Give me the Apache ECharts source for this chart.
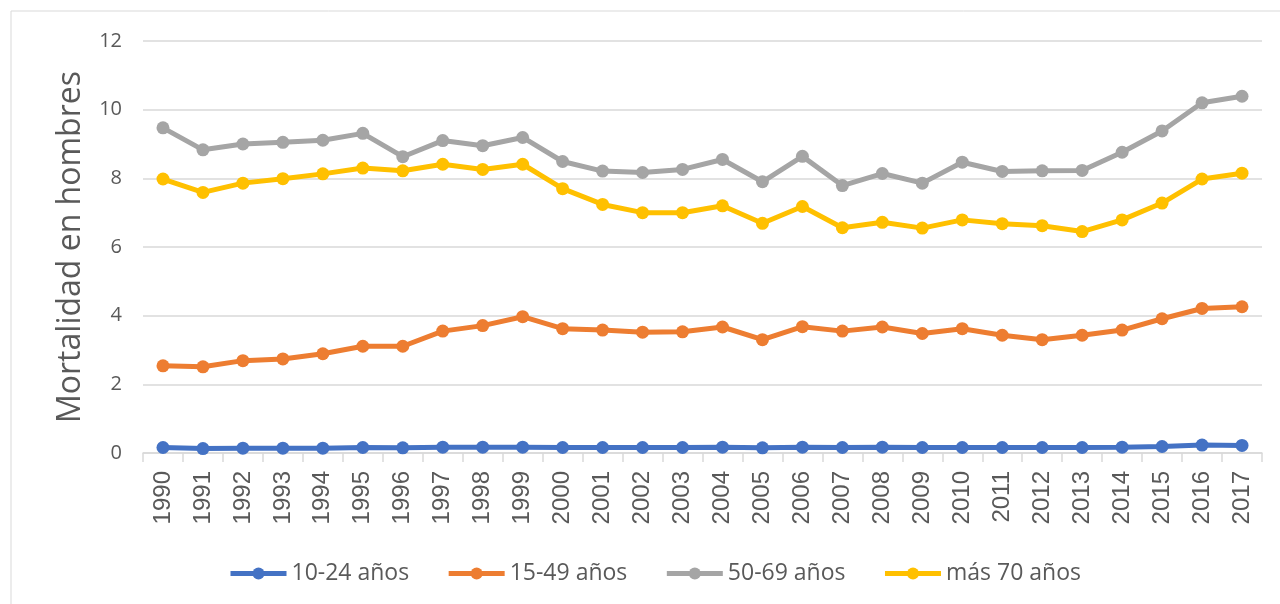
<!DOCTYPE html>
<html>
<head>
<meta charset="utf-8">
<script src="https://cdn.jsdelivr.net/npm/echarts@6/dist/echarts.min.js"></script>
<style>
  html, body { margin: 0; padding: 0; background: #fff; }
  #main { width: 1280px; height: 604px; }
</style>
</head>
<body>
<div id="main"></div>
<script>
const years = ['1990', '1991', '1992', '1993', '1994', '1995', '1996', '1997', '1998', '1999',
  '2000', '2001', '2002', '2003', '2004', '2005', '2006', '2007', '2008', '2009',
  '2010', '2011', '2012', '2013', '2014', '2015', '2016', '2017'];

const age10to24 = [0.16, 0.13, 0.14, 0.14, 0.14, 0.16, 0.15, 0.17, 0.17, 0.17,
  0.16, 0.16, 0.16, 0.16, 0.17, 0.15, 0.17, 0.16, 0.17, 0.16,
  0.16, 0.16, 0.16, 0.16, 0.17, 0.19, 0.23, 0.22];
const age15to49 = [2.54, 2.51, 2.69, 2.74, 2.89, 3.11, 3.11, 3.55, 3.71, 3.97,
  3.62, 3.58, 3.52, 3.53, 3.67, 3.30, 3.68, 3.55, 3.67, 3.48,
  3.62, 3.43, 3.30, 3.43, 3.58, 3.91, 4.21, 4.26];
const age50to69 = [9.47, 8.83, 9.00, 9.05, 9.11, 9.31, 8.63, 9.10, 8.95, 9.19,
  8.49, 8.21, 8.17, 8.26, 8.55, 7.90, 8.64, 7.79, 8.14, 7.86,
  8.47, 8.20, 8.22, 8.23, 8.76, 9.38, 10.20, 10.39];
const age70plus = [7.98, 7.59, 7.86, 7.99, 8.13, 8.30, 8.22, 8.41, 8.26, 8.41,
  7.70, 7.24, 7.00, 7.00, 7.20, 6.69, 7.18, 6.56, 6.72, 6.55,
  6.79, 6.68, 6.62, 6.45, 6.79, 7.28, 7.98, 8.15];

const seriesNames = ['10-24 años', '15-49 años', '50-69 años', 'más 70 años'];
const seriesColors = ['#4472C4', '#ED7D31', '#A5A5A5', '#FFC000'];
const seriesData = [age10to24, age15to49, age50to69, age70plus];

const chart = echarts.init(document.getElementById('main'), null, { renderer: 'canvas' });

const option = {
  backgroundColor: '#ffffff',
  animation: false,
  graphic: [{
    type: 'rect',
    shape: { x: 11, y: 11, width: 1300, height: 620 },
    style: { fill: 'none', stroke: '#d9d9d9', lineWidth: 1 }
  }],
  grid: { left: 143, right: 18, top: 41, bottom: 151, containLabel: false },
  legend: {
    left: 223, top: 557,
    itemWidth: 56, itemHeight: 15, itemGap: 37,
    lineStyle: { width: 5 },
    textStyle: { fontFamily: 'Open Sans', fontSize: 23, color: '#595959' },
    data: seriesNames
  },
  xAxis: {
    type: 'category',
    data: years,
    boundaryGap: true,
    axisLine: { lineStyle: { color: '#d9d9d9', width: 1.5 } },
    axisTick: { show: true, length: 9, lineStyle: { color: '#d9d9d9', width: 1.5 } },
    axisLabel: {
      rotate: 90, margin: 18, interval: 0,
      fontFamily: 'Liberation Sans', fontSize: 24, color: '#595959'
    }
  },
  yAxis: {
    type: 'value',
    min: 0, max: 12, interval: 2,
    name: 'Mortalidad en hombres',
    nameLocation: 'middle',
    nameGap: 56,
    nameTextStyle: { fontFamily: 'Open Sans', fontSize: 32, color: '#595959' },
    axisLine: { show: false },
    axisTick: { show: false },
    axisLabel: { margin: 21, fontFamily: 'Open Sans', fontSize: 20, color: '#595959' },
    splitLine: { lineStyle: { color: '#d9d9d9', width: 1.5 } }
  },
  series: seriesNames.map((name, i) => ({
    name: name,
    type: 'line',
    data: seriesData[i],
    symbol: 'circle',
    symbolSize: 13,
    itemStyle: { color: seriesColors[i] },
    lineStyle: { color: seriesColors[i], width: 5 }
  }))
};

chart.setOption(option);
</script>
</body>
</html>
